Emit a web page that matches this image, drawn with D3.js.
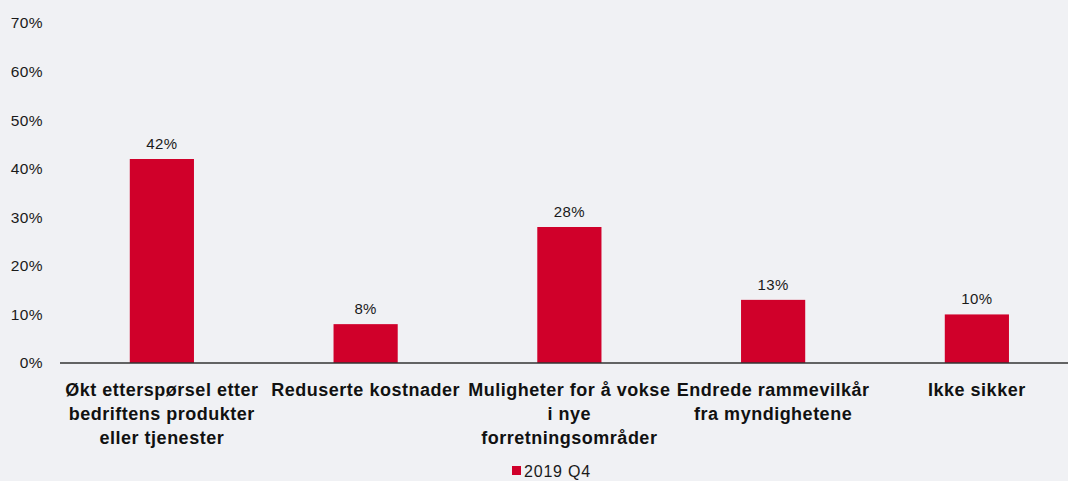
<!DOCTYPE html>
<html><head><meta charset="utf-8">
<script src="https://cdn.jsdelivr.net/npm/d3@7"></script>
<style>html,body{margin:0;padding:0;background:#f0f1f4;}svg{display:block;font-family:"Liberation Sans",Arial,sans-serif;}</style>
</head><body>
<script>
const categories = [
  ["Økt etterspørsel etter","bedriftens produkter","eller tjenester"],
  ["Reduserte kostnader"],
  ["Muligheter for å vokse","i nye","forretningsområder"],
  ["Endrede rammevilkår","fra myndighetene"],
  ["Ikke sikker"]
];
const values = [42, 8, 28, 13, 10];
const yTicks = [0,10,20,30,40,50,60,70];
const seriesName = "2019 Q4";

const W=1068,H=481;
const svg=d3.select("body").append("svg").attr("width",W).attr("height",H);
svg.append("rect").attr("width",W).attr("height",H).attr("fill","#f0f1f4");
const x0=60, bandW=203.75;
const x=d3.scaleBand().domain(d3.range(categories.length)).range([x0,x0+bandW*categories.length]).paddingInner(0.685).paddingOuter(0.3425);
const y=d3.scaleLinear().domain([0,70]).range([363,23]);
const red="#d0002a";

const ya=svg.append("g").attr("transform","translate(49,0)")
  .call(d3.axisLeft(y).tickValues(yTicks).tickFormat(d=>d+"%").tickSize(0).tickPadding(6));
ya.select(".domain").remove();
ya.selectAll("text").attr("font-size",15.5).attr("letter-spacing","0.4px").attr("fill","#1a1a1a").attr("font-family","Liberation Sans, Arial, sans-serif");

svg.selectAll("rect.bar").data(values).enter().append("rect").attr("class","bar")
  .attr("x",(d,i)=>x(i)).attr("width",x.bandwidth())
  .attr("y",d=>y(d)).attr("height",d=>y(0)-y(d)).attr("fill",red);

svg.append("line").attr("x1",x0).attr("x2",W).attr("y1",y(0)).attr("y2",y(0)).attr("stroke","#333").attr("stroke-width",1.5);

svg.selectAll("text.val").data(values).enter().append("text").attr("class","val")
  .attr("x",(d,i)=>x(i)+x.bandwidth()/2).attr("y",d=>y(d)-10)
  .attr("text-anchor","middle").attr("font-size",15).attr("letter-spacing","0.4px").attr("fill","#1a1a1a").text(d=>d+"%");

categories.forEach((lines,i)=>{
  const t=svg.append("text").attr("text-anchor","middle").attr("font-size",18).attr("letter-spacing","0.5px").attr("font-weight","bold").attr("fill","#111");
  lines.forEach((l,j)=>t.append("tspan").attr("x",x(i)+x.bandwidth()/2).attr("y",396+j*24).text(l));
});

const lg=svg.append("g");
lg.append("rect").attr("x",512).attr("y",466).attr("width",9).attr("height",9).attr("fill",red);
lg.append("text").attr("x",524).attr("y",477).attr("font-size",16).attr("letter-spacing","0.8px").attr("fill","#1a1a1a").text(seriesName);
</script>
</body></html>
